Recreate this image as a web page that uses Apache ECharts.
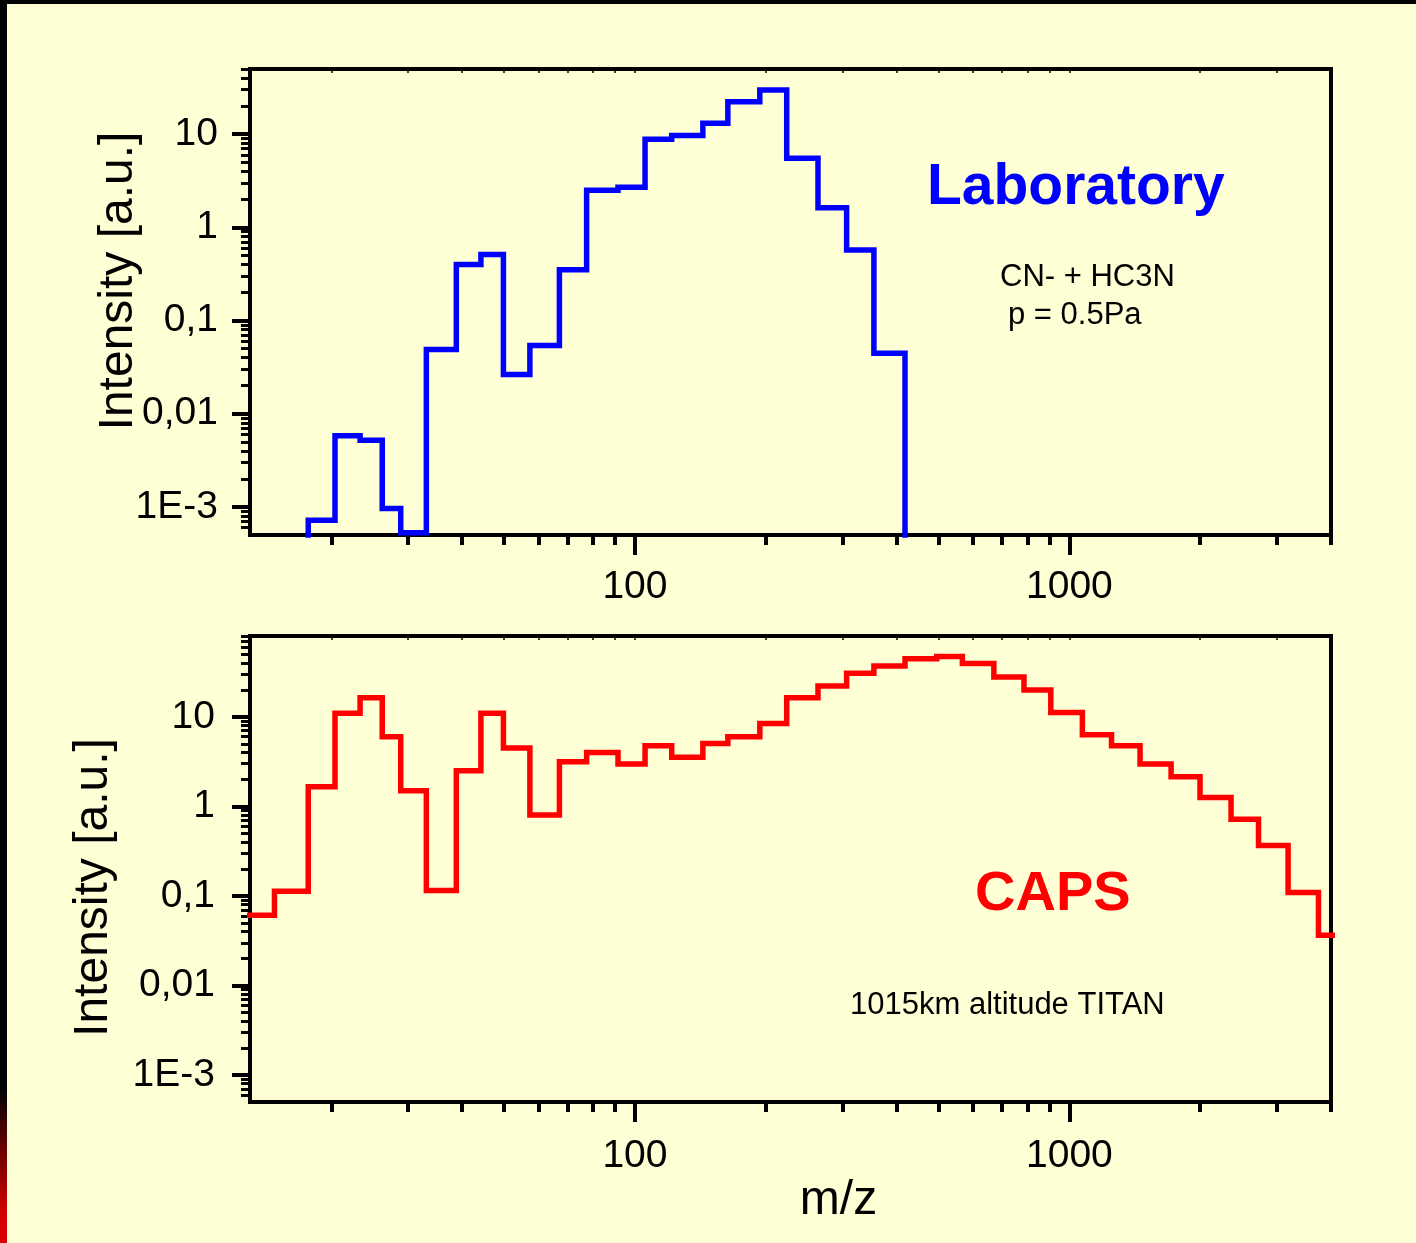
<!DOCTYPE html>
<html>
<head>
<meta charset="utf-8">
<style>
  html, body { margin: 0; padding: 0; background: #FFFFD5; }
  #chart { width: 1416px; height: 1243px; }
</style>
<script src="https://cdn.jsdelivr.net/npm/echarts@6/dist/echarts.min.js"></script>
</head>
<body>
<div id="chart"></div>
<script>
// ---- data ----
// common m/z bin edges (log-spaced instrument bins)
const binEdges = [12.6, 14.8, 17.7, 20.4, 23.3, 26.2, 28.9, 33.1, 38.8, 44.2, 49.8, 57.3, 67.0, 77.4, 91.4,
  105.5, 121.5, 143.3, 163.6, 193.8, 223.5, 263.8, 307, 354.8, 418.4, 495, 567, 670, 786, 906,
  1071, 1250, 1454, 1714, 1998, 2355, 2724, 3186, 3743, 4300];

// Laboratory (CN- + HC3N, p = 0.5 Pa) intensity per bin, null = no signal
const labIntensity = [null, null, 7.2e-4, 5.8e-3, 5.2e-3, 9.6e-4, 5.3e-4, 0.049, 0.40, 0.51, 0.0264, 0.054,
  0.35, 2.5, 2.7, 8.8, 9.7, 13.1, 22.3, 29.8, 5.5, 1.62, 0.57, 0.0447,
  null, null, null, null, null, null, null, null, null, null, null, null, null, null, null];

// CAPS (1015 km altitude, Titan) intensity per bin
const capsIntensity = [0.061, 0.113, 1.66, 11.0, 16.4, 6.0, 1.5, 0.115, 2.5, 11.0, 4.48, 0.80, 3.15, 4.0,
  2.97, 4.75, 3.53, 5.05, 5.98, 8.43, 16.4, 22.1, 30.7, 37.0, 44.7, 47.1, 39.4, 27.9, 20.0, 11.2,
  6.3, 4.75, 2.97, 2.15, 1.26, 0.72, 0.366, 0.109, 0.0363];

// tick values and labels
const xMajorTicks = [100, 1000];
const xMajorLabels = ['100', '1000'];
const xMinorTicks = [20, 30, 40, 50, 60, 70, 80, 90, 200, 300, 400, 500, 600, 700, 800, 900, 2000, 3000, 4000];
const yMajorTicks = [0.001, 0.01, 0.1, 1, 10];
const yMajorLabels = ['1E-3', '0,01', '0,1', '1', '10'];
const yMinorTicksTop = [6e-4, 7e-4, 8e-4, 9e-4, 2e-3, 3e-3, 4e-3, 5e-3, 6e-3, 7e-3, 8e-3, 9e-3,
  0.02, 0.03, 0.04, 0.05, 0.06, 0.07, 0.08, 0.09, 0.2, 0.3, 0.4, 0.5, 0.6, 0.7, 0.8, 0.9,
  2, 3, 4, 5, 6, 7, 8, 9, 20, 30, 40, 50];
const yMinorTicksBottom = [6e-4, 7e-4, 8e-4, 9e-4, 2e-3, 3e-3, 4e-3, 5e-3, 6e-3, 7e-3, 8e-3, 9e-3,
  0.02, 0.03, 0.04, 0.05, 0.06, 0.07, 0.08, 0.09, 0.2, 0.3, 0.4, 0.5, 0.6, 0.7, 0.8, 0.9,
  2, 3, 4, 5, 6, 7, 8, 9, 20, 30, 40, 50, 60, 70, 80];

const xRange = [13, 4000];
const yRangeTop = [5e-4, 50];
const yRangeBottom = [5e-4, 80];

// ---- build step outline from bins ----
function stepPoints(values, floor) {
  const pts = [];
  let i = 0;
  while (i < values.length) {
    if (values[i] == null) { i++; continue; }
    let j = i;
    pts.push([binEdges[i], floor]);
    while (j < values.length && values[j] != null) { pts.push([binEdges[j], values[j]]); j++; }
    pts.push([binEdges[j], values[j - 1]]);
    pts.push([binEdges[j], floor]);
    i = j;
  }
  return pts;
}

function lookupLabel(ticks, labels) {
  return function (v) {
    const i = ticks.findIndex(t => Math.abs(Math.log10(t) - Math.log10(v)) < 1e-6);
    return i >= 0 ? labels[i] : '';
  };
}

const FONT = '"Liberation Sans", Arial, Helvetica, sans-serif';
const BLACK = '#000000';

function xAxes(g, withName) {
  const base = { type: 'log', logBase: 10, gridIndex: g, min: xRange[0], max: xRange[1], splitLine: { show: false } };
  return [
    Object.assign({}, base, {
      position: 'bottom',
      axisLine: { show: true, onZero: false, lineStyle: { color: BLACK, width: 4 } },
      axisTick: { show: true, inside: false, length: 20, customValues: xMajorTicks, lineStyle: { color: BLACK, width: 4 } },
      axisLabel: { show: true, customValues: xMajorTicks, formatter: lookupLabel(xMajorTicks, xMajorLabels),
        fontSize: 39, color: BLACK, fontFamily: FONT, margin: g === 0 ? 33 : 35 },
      name: withName ? 'm/z' : '',
      nameLocation: 'middle',
      nameGap: 75,
      nameMoveOverlap: false,
      nameTextStyle: { fontSize: 48, color: BLACK, fontFamily: FONT, padding: [0, 0, 0, 96] }
    }),
    Object.assign({}, base, {
      position: 'bottom',
      axisLine: { show: false, onZero: false },
      axisTick: { show: true, inside: false, length: 10, customValues: xMinorTicks, lineStyle: { color: BLACK, width: 4 } },
      axisLabel: { show: false }
    }),
    Object.assign({}, base, {
      position: 'top',
      axisLine: { show: false, onZero: false },
      axisTick: { show: true, inside: true, length: 4, customValues: xMinorTicks.concat(xMajorTicks), lineStyle: { color: BLACK, width: 1.5 } },
      axisLabel: { show: false }
    })
  ];
}

function yAxes(g, yRange, minorTicks, nameGap, namePad, labelMargin) {
  const base = { type: 'log', logBase: 10, gridIndex: g, min: yRange[0], max: yRange[1], splitLine: { show: false } };
  return [
    Object.assign({}, base, {
      position: 'left',
      axisLine: { show: true, onZero: false, lineStyle: { color: BLACK, width: 4 } },
      axisTick: { show: true, inside: false, length: 18, customValues: yMajorTicks, lineStyle: { color: BLACK, width: 4 } },
      axisLabel: { show: true, customValues: yMajorTicks, formatter: lookupLabel(yMajorTicks, yMajorLabels),
        fontSize: 39, color: BLACK, fontFamily: FONT, margin: labelMargin },
      name: 'Intensity [a.u.]',
      nameLocation: 'middle',
      nameGap: nameGap,
      nameMoveOverlap: false,
      nameTextStyle: { fontSize: 48, color: BLACK, fontFamily: FONT, padding: namePad }
    }),
    Object.assign({}, base, {
      position: 'left',
      axisLine: { show: false, onZero: false },
      axisTick: { show: true, inside: false, length: 9, customValues: minorTicks, lineStyle: { color: BLACK, width: 3 } },
      axisLabel: { show: false }
    })
  ];
}

const chart = echarts.init(document.getElementById('chart'), null, { renderer: 'canvas', width: 1416, height: 1243 });

const option = {
  animation: false,
  backgroundColor: '#FFFFD5',
  textStyle: { fontFamily: FONT },
  grid: [
    { left: 250, top: 69, width: 1081, height: 466, show: true, borderColor: BLACK, borderWidth: 4,
      backgroundColor: 'transparent', containLabel: false, outerBoundsMode: 'none' },
    { left: 250, top: 636, width: 1081, height: 466, show: true, borderColor: BLACK, borderWidth: 4,
      backgroundColor: 'transparent', containLabel: false, outerBoundsMode: 'none' }
  ],
  xAxis: xAxes(0, false).concat(xAxes(1, true)),
  yAxis: yAxes(0, yRangeTop, yMinorTicksTop, 107, [0, 0, 0, 42], 32)
    .concat(yAxes(1, yRangeBottom, yMinorTicksBottom, 132, [0, 37, 0, 0], 35)),
  series: [
    {
      name: 'Laboratory', type: 'line', step: 'end', xAxisIndex: 0, yAxisIndex: 0,
      data: stepPoints(labIntensity, 1e-6), symbol: 'none', clip: true,
      lineStyle: { color: '#0000FF', width: 5.5, join: 'miter', cap: 'butt' }
    },
    {
      name: 'CAPS', type: 'line', step: 'end', xAxisIndex: 3, yAxisIndex: 2,
      data: stepPoints(capsIntensity, 1e-6), symbol: 'none', clip: true,
      lineStyle: { color: '#FF0000', width: 5.5, join: 'miter', cap: 'butt' }
    }
  ],
  graphic: [
    { type: 'rect', silent: true, z: 100, shape: { x: 0, y: 0, width: 1416, height: 4 }, style: { fill: '#000' } },
    { type: 'rect', silent: true, z: 100, shape: { x: 0, y: 0, width: 7, height: 1243 },
      style: { fill: new echarts.graphic.LinearGradient(0, 0, 0, 1, [
        { offset: 0, color: '#000000' }, { offset: 0.875, color: '#000000' },
        { offset: 0.975, color: '#D20000' }, { offset: 1, color: '#D80000' }]) } },
    { type: 'text', x: 927, y: 188, silent: true,
      style: { text: 'Laboratory', fill: '#0000FF', font: 'bold 57px ' + FONT, align: 'left', verticalAlign: 'middle' } },
    { type: 'text', x: 1000, y: 277, silent: true,
      style: { text: 'CN- + HC3N', fill: '#000', font: '31px ' + FONT, align: 'left', verticalAlign: 'middle' } },
    { type: 'text', x: 1008, y: 315, silent: true,
      style: { text: 'p = 0.5Pa', fill: '#000', font: '31px ' + FONT, align: 'left', verticalAlign: 'middle' } },
    { type: 'text', x: 975, y: 895, silent: true,
      style: { text: 'CAPS', fill: '#FF0000', font: 'bold 56px ' + FONT, align: 'left', verticalAlign: 'middle' } },
    { type: 'text', x: 850, y: 1005, silent: true,
      style: { text: '1015km altitude TITAN', fill: '#000', font: '31px ' + FONT, align: 'left', verticalAlign: 'middle' } }
  ]
};
chart.setOption(option);
</script>
</body>
</html>
